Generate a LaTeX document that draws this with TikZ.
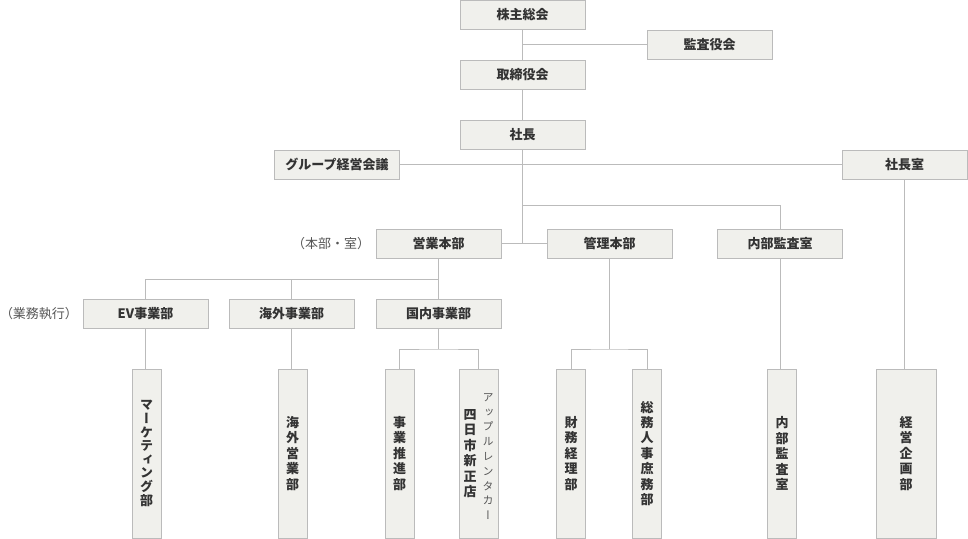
\documentclass[tikz,border=0pt]{standalone}
\usepackage{fontspec}
\setmainfont{Noto Sans CJK JP}
\newfontfamily\tatefont{Noto Sans CJK JP}[RawFeature=+vert]
\usepackage{xcolor}
\usepackage{tikz}

\definecolor{boxfill}{HTML}{F0F0EC}
\definecolor{boxline}{HTML}{BBBBBB}
\definecolor{textgray}{HTML}{333333}
\definecolor{notegray}{HTML}{555555}

\begin{document}
\begin{tikzpicture}[
    x=0.75pt, y=-0.75pt,
    every node/.style={text=textgray},
    box/.style={draw=boxline, fill=boxfill, line width=0.75pt, inner sep=0pt,
        minimum width=93.75pt, minimum height=21.75pt,
        font=\fontsize{9.75pt}{11pt}\selectfont\bfseries},
    tate/.style={draw=boxline, fill=boxfill, line width=0.75pt, inner sep=0pt,
        minimum width=21.75pt, minimum height=126.75pt, align=center,
        font=\fontsize{9.75pt}{11.6pt}\selectfont\tatefont\bfseries},
    note/.style={text=notegray, font=\fontsize{9.75pt}{11pt}\selectfont},
    link/.style={draw=boxline, line width=0.75pt}
]
\useasboundingbox (0,0) rectangle (968,539);

% Nodes
\node[box] (sokai) at (522.5,15) {株主総会};
\node[box] (kansayaku) at (709.5,44.5) {監査役会};
\node[box] (torishimari) at (522.5,74.5) {取締役会};
\node[box] (shacho) at (522.5,134.5) {社長};
\node[box] (group) at (337,164.5) {グループ経営会議};
\node[box] (shachoshitsu) at (904.5,164.5) {社長室};
\node[box] (eigyo) at (438.5,243.5) {営業本部};
\node[box] (kanri) at (609.5,243.5) {管理本部};
\node[box] (naibu) at (780,243.5) {内部監査室};
\node[box] (ev) at (145.5,313.5) {EV事業部};
\node[box] (kaigai) at (291.5,313.5) {海外事業部};
\node[box] (kokunai) at (438.5,313.5) {国内事業部};

\node[tate, font=\fontsize{9.75pt}{10.2pt}\selectfont\tatefont\bfseries] (marketing) at (146.5,453.5) {マ\\ー\\ケ\\テ\\ィ\\ン\\グ\\部};
\node[tate] (kaigaieigyo) at (292.5,453.5) {海\\外\\営\\業\\部};
\node[tate] (jigyo) at (399.5,453.5) {事\\業\\推\\進\\部};
\node[tate, minimum width=29.25pt] (apple) at (478.5,453.5) {};
\node[tate] (zaimu) at (571,453.5) {財\\務\\経\\理\\部};
\node[tate] (somu) at (647,453.5) {総\\務\\人\\事\\庶\\務\\部};
\node[tate] (naibuV) at (782,453.5) {内\\部\\監\\査\\室};
\node[tate, minimum width=45pt] (keiei) at (906,453.5) {経\\営\\企\\画\\部};

% Junctions
\coordinate (kansaJ) at (522.5,205);
\coordinate (eigyoJ) at (438.5,279);
\coordinate (kokunaiJ) at (438.5,349);
\coordinate (kanriJ) at (609.5,349);

% Edges
\draw[link] (sokai) -- (torishimari);
\draw[link] (kansayaku.west) -- (kansayaku.west -| sokai.south);
\draw[link] (torishimari) -- (shacho);
\draw[link] (group) -- (shachoshitsu);
\draw[link] (shacho.south) -- (shacho.south |- eigyo.east);
\draw[link] (eigyo.east) -- (kanri.west);
\draw[link] (kansaJ) -| (naibu.north);
\draw[link] (shachoshitsu.south) -- (shachoshitsu.south |- keiei.north);
\draw[link] (naibu.south) -- (naibu.south |- naibuV.north);
\draw[link] (eigyo.south) -- (eigyoJ) -| (ev.north);
\draw[link] (eigyoJ) -- (kokunai.north);
\draw[link] (kaigai.north) -- (kaigai.north |- eigyoJ);
\draw[link] (ev.south) -- (ev.south |- marketing.north);
\draw[link] (kaigai.south) -- (kaigai.south |- kaigaieigyo.north);
\draw[link] (kokunai.south) -- (kokunaiJ);
\draw[link] (jigyo.north) |- (kokunaiJ) -| (apple.north);
\draw[link] (kanri.south) -- (kanriJ);
\draw[link] (zaimu.north) |- (kanriJ) -| (somu.north);

% Labels
\node[note] at (331,244) {（本部・室）};
\node[note] at (39,313.5) {（業務執行）};
\node[align=center, font=\fontsize{9.75pt}{11.6pt}\selectfont\tatefont\bfseries] at (470,453.5) {四\\日\\市\\新\\正\\店};
\node[align=center, text=notegray, font=\fontsize{8.25pt}{11.1pt}\selectfont\tatefont] at (488,456.5) {ア\\ッ\\プ\\ル\\レ\\ン\\タ\\カ\\ー};

\end{tikzpicture}
\end{document}
